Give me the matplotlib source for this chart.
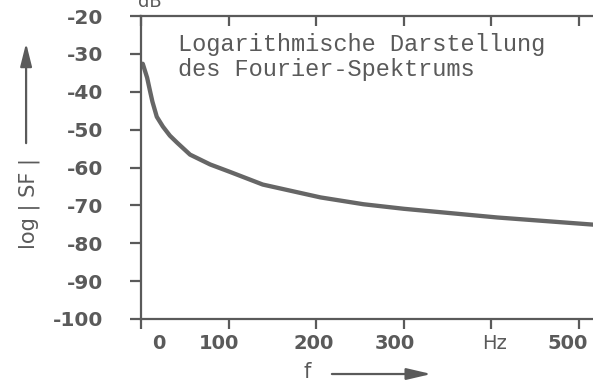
import matplotlib
matplotlib.use("Agg")
import matplotlib.pyplot as plt
from matplotlib.patches import FancyArrowPatch
from matplotlib.transforms import ScaledTranslation

# values (f in Hz, level in dB)
freq = [0, 2, 7, 10, 13, 18, 25, 33, 41, 56, 79, 102, 139, 205, 254, 300, 407, 523]
level = [-33.0, -32.6, -36.3, -39.5, -42.6, -46.6, -49.2, -51.6, -53.4, -56.6,
         -59.2, -61.2, -64.5, -67.9, -69.7, -70.9, -73.2, -75.2]

y_ticks = [-20, -30, -40, -50, -60, -70, -80, -90, -100]
x_ticks = [0, 100, 200, 300, 400, 500]
x_labels = ["0", "100", "200", "300", "Hz", "500"]
# the scanned labels sit a little off their ticks (pixels)
x_label_shift = [18, -10, -2, -9, 3, -11]

ink = "#5a5a5a"

fig = plt.figure(figsize=(5.93, 3.84), dpi=100)
ax = fig.add_axes([0.2378, 0.1693, 0.7723, 0.789])

ax.plot(freq, level, color="#666666", lw=3.1, solid_capstyle="round",
        solid_joinstyle="round")

ax.set_xlim(0, 523)
ax.set_ylim(-100, -20)
ax.set_yticks(y_ticks)
ax.set_yticklabels([str(v) for v in y_ticks])
ax.set_xticks(x_ticks)
ax.set_xticklabels(x_labels)

for s in ax.spines.values():
    s.set_color(ink)
    s.set_linewidth(1.6)

ax.tick_params(axis="y", left=True, right=True, direction="out", length=8,
               width=1.6, color=ink, labelcolor=ink, labelsize=14.5, pad=19)
ax.tick_params(axis="x", top=True, direction="out", length=7, width=1.6,
               color=ink, labelcolor=ink, labelsize=14, pad=4)
for t in ax.get_yticklabels():
    t.set_fontweight("bold")
for t, dx in zip(ax.get_xticklabels(), x_label_shift):
    if t.get_text() != "Hz":
        t.set_fontweight("bold")
    t.set_transform(t.get_transform() + ScaledTranslation(dx / 100, 0, fig.dpi_scale_trans))

# top and right ticks point inward
for tk in ax.xaxis.get_major_ticks():
    tk.tick2line.set_marker(3)
    tk.tick2line.set_markersize(7)
for tk in ax.yaxis.get_major_ticks():
    tk.tick2line.set_marker(1)
    tk.tick2line.set_markersize(9)

ax.text(0.08, 0.865, "Logarithmische Darstellung\ndes Fourier-Spektrums",
        transform=ax.transAxes, family="Liberation Mono", fontsize=17,
        color=ink, va="center", ha="left", linespacing=1.1)

# axis labels with arrows
fig.text(0.05, 0.47, "log | SF |", rotation=90, color=ink, fontsize=15,
         va="center", ha="center")
fig.add_artist(FancyArrowPatch(
    (0.044, 0.62), (0.044, 0.895), transform=fig.transFigure,
    arrowstyle="-|>,head_length=1.4,head_width=0.35", mutation_scale=10,
    color=ink, lw=1.6))
fig.text(0.518, 0.03, "f", color=ink, fontsize=15, va="center", ha="center")
fig.add_artist(FancyArrowPatch(
    (0.555, 0.026), (0.732, 0.026), transform=fig.transFigure,
    arrowstyle="-|>,head_length=1.5,head_width=0.35", mutation_scale=10,
    color=ink, lw=1.6))
# unit label, cut off by the scan's top edge
fig.text(0.252, 0.995, "dB", color=ink, fontsize=13, va="center", ha="center")

fig.savefig("out.png", dpi=100)
